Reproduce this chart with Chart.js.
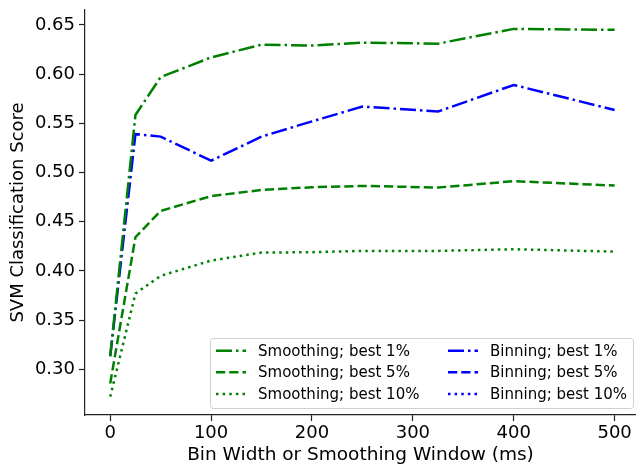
<!DOCTYPE html>
<html>
<head>
<meta charset="utf-8">
<script src="https://cdn.jsdelivr.net/npm/chart.js@4/dist/chart.umd.min.js"></script>
<style>
    html, body { margin: 0; padding: 0; background: #fff; }
    #wrap { width: 636px; height: 467px; position: relative; }
</style>
</head>
<body>
<div id="wrap"><canvas id="svm-chart"></canvas></div>
<script>
// window sizes (ms) and tick labels
const windowsMs = [0, 25, 50, 100, 150, 200, 250, 325, 400, 500];
const xTicks = [0, 100, 200, 300, 400, 500];
const yTicks = [0.30, 0.35, 0.40, 0.45, 0.50, 0.55, 0.60, 0.65];

// scores
const smoothBest1 = [0.313, 0.5585, 0.597, 0.617, 0.630, 0.629, 0.632, 0.631, 0.646, 0.645];
const smoothBest5 = [0.2856, 0.4342, 0.461, 0.476, 0.4823, 0.485, 0.4864, 0.4847, 0.4912, 0.4867];
const smoothBest10 = [0.2722, 0.377, 0.395, 0.4105, 0.4186, 0.419, 0.4203, 0.4203, 0.422, 0.4196];
const binBest1 = [0.3133, 0.539, 0.5365, 0.512, 0.5365, 0.552, 0.567, 0.562, 0.589, 0.5636];
// these two are only in the legend, no line is drawn for them
const binBest5 = [];
const binBest10 = [];

const GREEN = "#008000";
const BLUE = "#0000ff";
const LW = 2.5;
const DASHDOT = [6.4 * LW, 1.6 * LW, 1 * LW, 1.6 * LW];
const DASHED = [3.7 * LW, 1.6 * LW];
const DOTTED = [1 * LW, 1.65 * LW];

const toPoints = (ys) => ys.map((y, i) => ({ x: windowsMs[i], y: y }));

const series = (label, ys, color, dash) => ({
    label: label,
    data: toPoints(ys),
    borderColor: color,
    backgroundColor: color,
    borderWidth: LW,
    borderDash: dash,
    pointRadius: 0,
    tension: 0,
    fill: false,
});

const FONT = "'DejaVu Sans', sans-serif";

// legend drawn inside the plot, two columns like the original
const boxLegend = {
    id: "boxLegend",
    afterDraw(chart) {
        const ctx = chart.ctx;
        const sets = chart.data.datasets;
        const left = 210, top = 338, w = 423, h = 70;
        ctx.save();
        ctx.fillStyle = "rgba(255,255,255,0.85)";
        ctx.strokeStyle = "#d0d0d0";
        ctx.lineWidth = 1;
        ctx.setLineDash([]);
        ctx.beginPath();
        ctx.roundRect(left + 0.5, top + 0.5, w, h, 3);
        ctx.fill();
        ctx.stroke();

        ctx.font = "15px " + FONT;
        ctx.textBaseline = "middle";
        ctx.textAlign = "left";
        const colX = [216, 448];
        const rowY = [350.7, 372.3, 394];
        sets.forEach((ds, i) => {
            const col = Math.floor(i / 3);
            const row = i % 3;
            const x0 = colX[col];
            const y = rowY[row];
            ctx.strokeStyle = ds.borderColor;
            ctx.lineWidth = LW;
            ctx.setLineDash(ds.borderDash);
            ctx.beginPath();
            ctx.moveTo(x0, y);
            ctx.lineTo(x0 + 30, y);
            ctx.stroke();
            ctx.setLineDash([]);
            ctx.fillStyle = "#000";
            ctx.fillText(ds.label, x0 + 42, y + 1);
        });
        ctx.restore();
    },
};

new Chart(document.getElementById("svm-chart"), {
    type: "line",
    data: {
        datasets: [
            series("Smoothing; best 1%", smoothBest1, GREEN, DASHDOT),
            series("Smoothing; best 5%", smoothBest5, GREEN, DASHED),
            series("Smoothing; best 10%", smoothBest10, GREEN, DOTTED),
            series("Binning; best 1%", binBest1, BLUE, DASHDOT),
            series("Binning; best 5%", binBest5, BLUE, DASHED),
            series("Binning; best 10%", binBest10, BLUE, DOTTED),
        ],
    },
    options: {
        responsive: true,
        maintainAspectRatio: false,
        animation: false,
        layout: { padding: { top: 10, right: 0, left: 0, bottom: 0 } },
        scales: {
            x: {
                type: "linear",
                min: -25,
                max: 521.2,
                afterBuildTicks: (axis) => {
                    axis.ticks = xTicks.map((v) => ({ value: v }));
                },
                afterFit: (axis) => {
                    axis.height = 52;
                    axis.paddingLeft = 0;
                    axis.paddingRight = 0;
                },
                grid: {
                    drawOnChartArea: false,
                    drawTicks: true,
                    tickLength: 6,
                    tickColor: "#222",
                    tickWidth: 1.2,
                },
                border: { color: "#222", width: 1.2 },
                ticks: {
                    color: "#000",
                    padding: 2,
                    maxRotation: 0,
                    font: { family: FONT, size: 18 },
                },
                title: {
                    display: true,
                    text: "Bin Width or Smoothing Window (ms)",
                    color: "#000",
                    font: { family: FONT, size: 18.5 },
                    padding: { top: 0, bottom: 1 },
                },
            },
            y: {
                type: "linear",
                min: 0.2535,
                max: 0.6652,
                afterBuildTicks: (axis) => {
                    axis.ticks = yTicks.map((v) => ({ value: v }));
                },
                afterFit: (axis) => {
                    axis.width = 85;
                    axis.paddingTop = 0;
                    axis.paddingBottom = 0;
                },
                grid: {
                    drawOnChartArea: false,
                    drawTicks: true,
                    tickLength: 6,
                    tickColor: "#222",
                    tickWidth: 1.2,
                },
                border: { color: "#222", width: 1.2 },
                ticks: {
                    color: "#000",
                    padding: 4,
                    font: { family: FONT, size: 18 },
                    callback: (v) => v.toFixed(2),
                },
                title: {
                    display: true,
                    text: "SVM Classification Score",
                    color: "#000",
                    font: { family: FONT, size: 18 },
                    padding: { top: 8, bottom: 0 },
                },
            },
        },
        plugins: {
            legend: { display: false },
            tooltip: { enabled: false },
        },
    },
    plugins: [boxLegend],
});
</script>
</body>
</html>
